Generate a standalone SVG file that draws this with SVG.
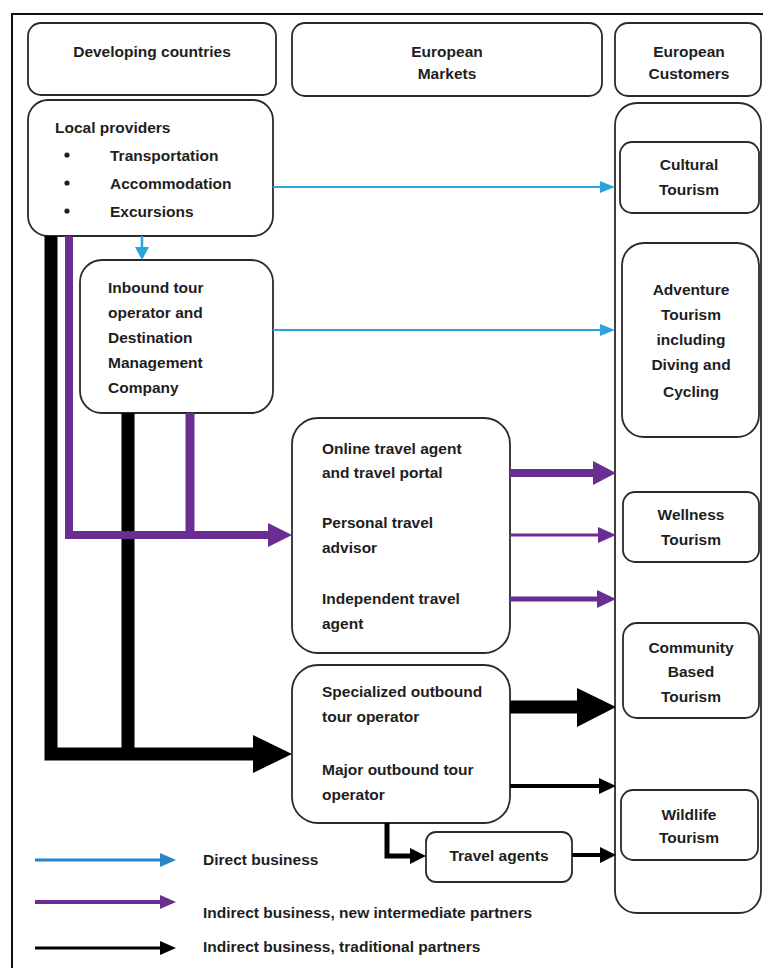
<svg xmlns="http://www.w3.org/2000/svg" width="763" height="968" viewBox="0 0 763 968">
<style>
.box{fill:#fff;stroke:#2a2a2a;stroke-width:1.8}
.t{font-family:"Liberation Sans",Arial,sans-serif;font-weight:bold;font-size:15.5px;fill:#1e1e1e}
.c{text-anchor:middle}
.blue{stroke:#2ba3dc;fill:none}
.bluef{fill:#2ba3dc}
.pur{stroke:#6a2d91;fill:none}
.purf{fill:#6a2d91}
.blk{stroke:#000;fill:none;stroke-linejoin:miter}
.blkf{fill:#000}
</style>
<rect x="0" y="0" width="763" height="968" fill="#fff"/>
<path d="M12,968 V14 H763" fill="none" stroke="#111" stroke-width="2"/>

<g id="hdr-developing">
<rect class="box" x="28" y="23" width="248" height="72" rx="13"/>
<text class="t c" x="152" y="57">Developing countries</text>
</g>
<g id="hdr-markets">
<rect class="box" x="292" y="23" width="310" height="73" rx="13"/>
<text class="t c" x="447" y="57">European</text>
<text class="t c" x="447" y="79">Markets</text>
</g>
<g id="hdr-customers">
<rect class="box" x="615" y="23" width="146" height="73" rx="13"/>
<text class="t c" x="689" y="57">European</text>
<text class="t c" x="689" y="79">Customers</text>
</g>

<g id="customers-column">
<rect class="box" x="615" y="103" width="146" height="810" rx="22"/>
</g>

<g id="local-providers">
<rect class="box" x="28" y="100" width="245" height="136" rx="20"/>
<text class="t" x="55" y="133">Local providers</text>
<circle cx="67" cy="155" r="2.6" fill="#1e1e1e"/>
<circle cx="67" cy="183" r="2.6" fill="#1e1e1e"/>
<circle cx="67" cy="211" r="2.6" fill="#1e1e1e"/>
<text class="t" x="110" y="161">Transportation</text>
<text class="t" x="110" y="189">Accommodation</text>
<text class="t" x="110" y="217">Excursions</text>
</g>

<g id="inbound">
<rect class="box" x="80" y="260" width="193" height="153" rx="22"/>
<text class="t" x="108" y="293">Inbound tour</text>
<text class="t" x="108" y="318">operator and</text>
<text class="t" x="108" y="343">Destination</text>
<text class="t" x="108" y="368">Management</text>
<text class="t" x="108" y="393">Company</text>
</g>

<g id="online-agents">
<rect class="box" x="292" y="418" width="218" height="235" rx="26"/>
<text class="t" x="322" y="454">Online travel agent</text>
<text class="t" x="322" y="478">and travel portal</text>
<text class="t" x="322" y="528">Personal travel</text>
<text class="t" x="322" y="553">advisor</text>
<text class="t" x="322" y="604">Independent travel</text>
<text class="t" x="322" y="629">agent</text>
</g>

<g id="outbound-operators">
<rect class="box" x="292" y="665" width="218" height="158" rx="26"/>
<text class="t" x="322" y="697">Specialized outbound</text>
<text class="t" x="322" y="722">tour operator</text>
<text class="t" x="322" y="775">Major outbound tour</text>
<text class="t" x="322" y="800">operator</text>
</g>

<g id="travel-agents">
<rect class="box" x="426" y="832" width="146" height="50" rx="10"/>
<text class="t c" x="499" y="861">Travel agents</text>
</g>

<g id="cultural">
<rect class="box" x="620" y="142" width="139" height="71" rx="12"/>
<text class="t c" x="689" y="170">Cultural</text>
<text class="t c" x="689" y="195">Tourism</text>
</g>
<g id="adventure">
<rect class="box" x="622" y="243" width="137" height="194" rx="22"/>
<text class="t c" x="691" y="295">Adventure</text>
<text class="t c" x="691" y="320">Tourism</text>
<text class="t c" x="691" y="345">including</text>
<text class="t c" x="691" y="370">Diving and</text>
<text class="t c" x="691" y="397">Cycling</text>
</g>
<g id="wellness">
<rect class="box" x="623" y="492" width="136" height="70" rx="12"/>
<text class="t c" x="691" y="520">Wellness</text>
<text class="t c" x="691" y="545">Tourism</text>
</g>
<g id="community">
<rect class="box" x="623" y="623" width="136" height="95" rx="14"/>
<text class="t c" x="691" y="653">Community</text>
<text class="t c" x="691" y="677">Based</text>
<text class="t c" x="691" y="702">Tourism</text>
</g>
<g id="wildlife">
<rect class="box" x="621" y="790" width="137" height="70" rx="12"/>
<text class="t c" x="689" y="820">Wildlife</text>
<text class="t c" x="689" y="843">Tourism</text>
</g>

<g id="connectors">
<line class="blue" x1="273" y1="187" x2="602" y2="187" stroke-width="2.2"/>
<polygon class="bluef" points="600,181 615,187 600,193"/>
<line class="blue" x1="273" y1="330" x2="602" y2="330" stroke-width="2.2"/>
<polygon class="bluef" points="600,324 615,330 600,336"/>
<line class="blue" x1="142" y1="236" x2="142" y2="249" stroke-width="2.5"/>
<polygon class="bluef" points="135,247 149,247 142,260"/>

<path class="blk" d="M51,236 V754 H258" stroke-width="13"/>
<line class="blk" x1="128" y1="413" x2="128" y2="754" stroke-width="13"/>
<polygon class="blkf" points="253,735 292,754 253,773"/>

<path class="pur" d="M69,236 V535 H272" stroke-width="8"/>
<line class="pur" x1="190" y1="413" x2="190" y2="535" stroke-width="9"/>
<polygon class="purf" points="268,523 292,535 268,547"/>

<line class="pur" x1="510" y1="473" x2="596" y2="473" stroke-width="8"/>
<polygon class="purf" points="593,461 616,473 593,485"/>
<line class="pur" x1="510" y1="535" x2="600" y2="535" stroke-width="3"/>
<polygon class="purf" points="598,527 616,535 598,543"/>
<line class="pur" x1="510" y1="599" x2="600" y2="599" stroke-width="5"/>
<polygon class="purf" points="597,590 616,599 597,608"/>

<line class="blk" x1="510" y1="707" x2="580" y2="707" stroke-width="13"/>
<polygon class="blkf" points="577,688 616,707 577,727"/>
<line class="blk" x1="510" y1="786" x2="602" y2="786" stroke-width="4"/>
<polygon class="blkf" points="599,778 616,786 599,794"/>
<path class="blk" d="M387,823 V856 H414" stroke-width="5"/>
<polygon class="blkf" points="410,848 426,856 410,864"/>
<line class="blk" x1="572" y1="855" x2="602" y2="855" stroke-width="4"/>
<polygon class="blkf" points="600,847 616,855 600,863"/>
</g>

<g id="legend">
<line x1="35" y1="860" x2="162" y2="860" stroke="#2a84c6" stroke-width="3"/>
<polygon points="160,853 176,860 160,867" fill="#2a84c6"/>
<text class="t" x="203" y="865">Direct business</text>
<line x1="35" y1="902" x2="162" y2="902" stroke="#6a2d91" stroke-width="4"/>
<polygon points="160,895 176,902 160,909" fill="#6a2d91"/>
<text class="t" x="203" y="918">Indirect business, new intermediate partners</text>
<line x1="35" y1="948" x2="162" y2="948" stroke="#000" stroke-width="3"/>
<polygon points="160,941 176,948 160,955" fill="#000"/>
<text class="t" x="203" y="952">Indirect business, traditional partners</text>
</g>
</svg>
